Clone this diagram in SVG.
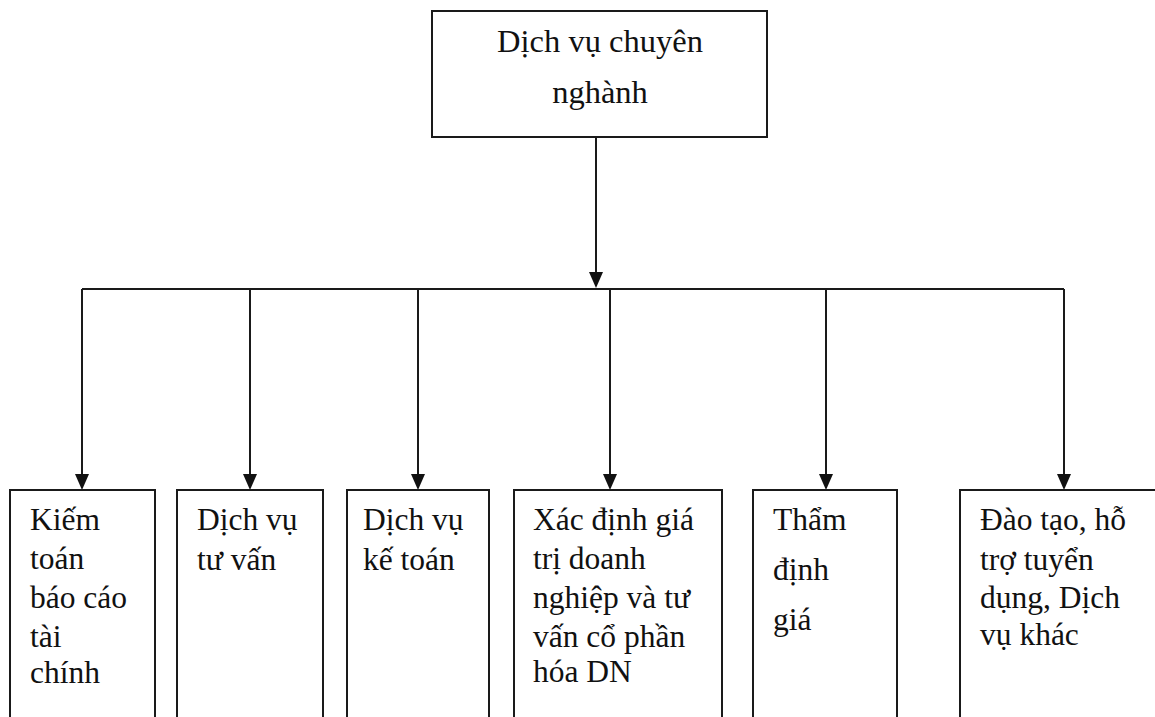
<svg xmlns="http://www.w3.org/2000/svg" width="1155" height="717" viewBox="0 0 1155 717">
<style>
.box{fill:#fff;stroke:#1a1a1a;stroke-width:2}
.ln{fill:none;stroke:#1a1a1a;stroke-width:2}
.ah{fill:#111}
.t{font-family:"Liberation Serif","DejaVu Serif",serif;font-size:31.5px;fill:#111}
.tt{font-size:32.5px}
</style>
<rect width="1155" height="717" fill="#fff"/>
<g id="connectors">
<line class="ln" x1="596" y1="137" x2="596" y2="272"/>
<path class="ah" d="M589,272 L603,272 L596,288 Z"/>
<line class="ln" x1="82" y1="289" x2="1064" y2="289"/>
<line class="ln" x1="82" y1="289" x2="82" y2="474"/>
<path class="ah" d="M75,474 L89,474 L82,490 Z"/>
<line class="ln" x1="250" y1="289" x2="250" y2="474"/>
<path class="ah" d="M243,474 L257,474 L250,490 Z"/>
<line class="ln" x1="418" y1="289" x2="418" y2="474"/>
<path class="ah" d="M411,474 L425,474 L418,490 Z"/>
<line class="ln" x1="610" y1="289" x2="610" y2="474"/>
<path class="ah" d="M603,474 L617,474 L610,490 Z"/>
<line class="ln" x1="826" y1="289" x2="826" y2="474"/>
<path class="ah" d="M819,474 L833,474 L826,490 Z"/>
<line class="ln" x1="1064" y1="289" x2="1064" y2="474"/>
<path class="ah" d="M1057,474 L1071,474 L1064,490 Z"/>
</g>
<g id="root">
<rect class="box" x="432" y="11" width="335" height="126"/>
<text class="t tt" x="600" y="52" text-anchor="middle">Dịch vụ chuyên</text>
<text class="t tt" x="600" y="103" text-anchor="middle">nghành</text>
</g>
<g id="n1">
<rect class="box" x="10" y="490" width="145" height="240"/>
<text class="t" x="30" y="530">Kiếm</text>
<text class="t" x="30" y="569">toán</text>
<text class="t" x="30" y="608">báo cáo</text>
<text class="t" x="30" y="647">tài</text>
<text class="t" x="30" y="683">chính</text>
</g>
<g id="n2">
<rect class="box" x="177" y="490" width="146" height="240"/>
<text class="t" x="197" y="530">Dịch vụ</text>
<text class="t" x="197" y="570">tư vấn</text>
</g>
<g id="n3">
<rect class="box" x="347" y="490" width="142" height="240"/>
<text class="t" x="363" y="530">Dịch vụ</text>
<text class="t" x="363" y="570">kế toán</text>
</g>
<g id="n4">
<rect class="box" x="514" y="490" width="208" height="240"/>
<text class="t" x="533" y="530">Xác định giá</text>
<text class="t" x="533" y="569">trị doanh</text>
<text class="t" x="533" y="608">nghiệp và tư</text>
<text class="t" x="533" y="647">vấn cổ phần</text>
<text class="t" x="533" y="682">hóa DN</text>
</g>
<g id="n5">
<rect class="box" x="753" y="490" width="144" height="240"/>
<text class="t" x="773" y="530">Thẩm</text>
<text class="t" x="773" y="580">định</text>
<text class="t" x="773" y="630">giá</text>
</g>
<g id="n6">
<rect class="box" x="960" y="490" width="210" height="240"/>
<text class="t" x="980" y="530">Đào tạo, hỗ</text>
<text class="t" x="980" y="570">trợ tuyển</text>
<text class="t" x="980" y="608">dụng, Dịch</text>
<text class="t" x="980" y="645">vụ khác</text>
</g>
</svg>
